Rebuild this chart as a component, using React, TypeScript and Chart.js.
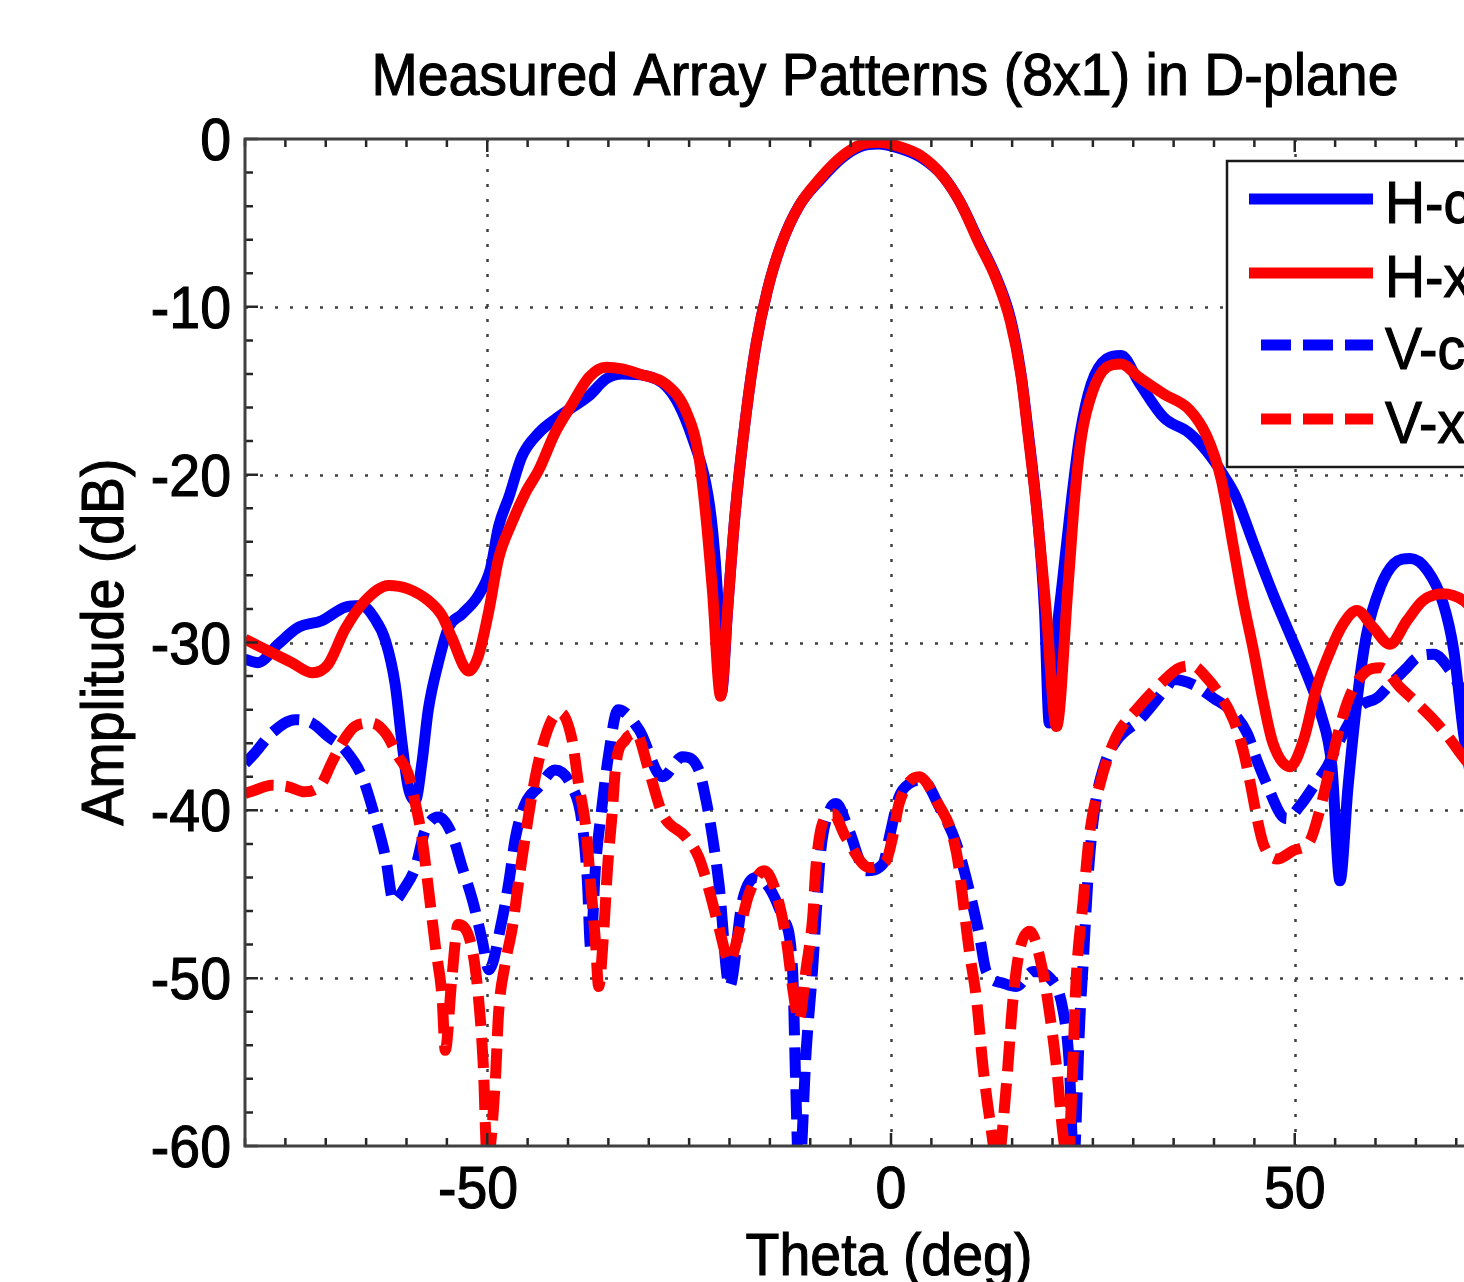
import React, { useEffect, useRef } from 'react';
import { Chart, registerables } from 'chart.js';

Chart.register(...registerables);

// ---------------- data ----------------
const hcoTheta = [
  -80, -78.4, -75.9, -73.4, -70.5, -67.6, -65.6, -63.9, -62.6, -61.4,
  -60.6, -59.8, -58.9, -58.1, -57.3, -56.0, -54.8, -53.1, -51.1, -49.6,
  -48.6, -47.3, -45.7, -43.6, -41.6, -39.5, -37.4, -35.3, -33.3, -30.4,
  -27.9, -26.3, -24.6, -22.9, -22.1, -21.5, -21.0, -20.2, -19.3, -18.0,
  -16.7, -15.3, -13.6, -11.4, -8.7, -6.0, -3.8, -1.6, 1.0, 3.7,
  6.4, 8.6, 10.8, 13.0, 14.8, 16.1, 17.0, 18.1, 19.0, 19.6,
  20.4, 21.2, 22.4, 23.4, 24.8, 26.7, 28.5, 30.7, 33.8, 36.9,
  39.1, 41.0, 42.7, 44.9, 47.3, 49.4, 51.5, 53.2, 54.6, 55.6,
  56.6, 57.7, 58.9, 60.6, 62.3, 64.3, 66.4, 68.4, 69.7, 70.9,
  72.0,
];
const hcoAmp = [
  -31.0, -31.2, -30.1, -29.1, -28.7, -27.9, -27.8, -28.6, -29.9, -32.5,
  -35.8, -38.6, -39.4, -37.2, -34.0, -31.1, -29.1, -28.3, -27.2, -25.6,
  -23.1, -21.3, -18.9, -17.5, -16.7, -16.0, -15.3, -14.3, -14.0, -14.1,
  -14.7, -15.8, -17.8, -20.6, -23.3, -27.0, -33.0, -27.8, -22.3, -16.6,
  -12.2, -9.0, -6.3, -4.0, -2.4, -1.1, -0.45, -0.3, -0.55, -1.1,
  -2.2, -3.8, -6.0, -8.2, -10.7, -14.0, -17.5, -22.3, -28.0, -34.8,
  -30.0, -26.5, -21.3, -17.6, -14.6, -13.1, -12.9, -14.5, -16.6, -17.5,
  -18.6, -19.9, -21.3, -24.1, -27.1, -29.5, -31.9, -34.2, -37.4, -44.2,
  -38.6, -33.5, -29.5, -26.7, -25.3, -25.0, -25.7, -27.7, -30.5, -35.4,
  -38.5,
];

const hxTheta = [
  -80, -76.7, -74.2, -71.7, -69.7, -67.6, -65.1, -62.2, -59.8, -57.3,
  -55.6, -54.4, -52.3, -51.1, -49.8, -48.6, -46.9, -45.3, -43.6, -41.6,
  -39.5, -37.4, -35.3, -33.3, -31.2, -27.9, -25.4, -23.8, -22.9, -22.1,
  -21.1, -20.2, -19.3, -18.0, -16.7, -15.3, -13.6, -11.4, -8.7, -6.0,
  -3.8, -1.6, 1.0, 3.7, 6.4, 8.6, 10.8, 13.0, 14.8, 16.1,
  17.0, 18.1, 19.2, 20.5, 21.9, 22.8, 23.6, 25.0, 26.7, 28.5,
  30.7, 33.8, 36.9, 39.1, 40.9, 42.4, 43.6, 44.9, 46.1, 47.3,
  49.4, 51.1, 52.7, 54.4, 56.0, 57.7, 59.7, 61.8, 63.9, 65.9,
  68.4, 70.9, 72.0,
];
const hxAmp = [
  -29.8, -30.6, -31.2, -31.8, -31.3, -29.2, -27.5, -26.6, -26.8, -27.5,
  -28.4, -29.7, -31.7, -30.8, -28.1, -25.0, -22.8, -21.1, -19.7, -17.5,
  -15.8, -14.2, -13.6, -13.7, -14.0, -14.6, -16.2, -18.9, -22.6, -27.0,
  -33.2, -27.8, -22.3, -16.6, -12.2, -9.0, -6.3, -4.0, -2.3, -1.0,
  -0.35, -0.2, -0.45, -1.0, -2.2, -3.8, -6.1, -8.3, -10.9, -14.1,
  -17.7, -22.3, -28.0, -35.0, -26.8, -21.1, -17.7, -15.0, -13.6, -13.4,
  -14.2, -15.2, -16.1, -17.7, -20.3, -24.3, -27.5, -30.5, -33.5, -36.0,
  -37.4, -35.8, -32.7, -30.5, -28.9, -28.1, -29.1, -30.1, -28.7, -27.5,
  -27.1, -27.5, -28.0,
];

const vcoTheta = [
  -80, -78.8, -76.7, -73.8, -71.7, -69.7, -67.6, -65.5, -63.9, -62.6,
  -61.6, -60.2, -58.9, -57.7, -56.0, -54.4, -53.1, -51.8, -50.6, -49.8,
  -48.2, -47.3, -46.5, -45.3, -43.6, -41.6, -39.5, -38.3, -37.6, -37.2,
  -36.6, -35.8, -35.0, -33.8, -31.2, -28.3, -25.8, -23.8, -22.9, -22.1,
  -21.3, -20.0, -18.4, -16.7, -15.1, -13.4, -12.2, -11.8, -11.4, -10.5,
  -9.7, -9.3, -8.7, -7.6, -6.8, -5.2, -3.1, -1.0, -0.2, 1.0,
  2.3, 3.9, 6.0, 8.1, 9.7, 11.0, 11.8, 13.9, 15.5, 17.6,
  19.7, 21.3, 22.1, 22.6, 23.4, 23.8, 24.4, 25.2, 26.5, 28.0,
  30.8, 34.1, 35.0, 37.4, 39.9, 42.4, 44.1, 45.3, 46.5, 48.2,
  49.0, 50.7, 52.3, 54.0, 55.6, 58.1, 60.2, 61.8, 63.9, 65.1,
  67.2, 69.3, 70.5, 72.0,
];
const vcoAmp = [
  -37.2, -36.6, -35.4, -34.6, -34.8, -35.6, -36.4, -38.0, -40.4, -42.8,
  -45.4, -44.6, -43.4, -41.2, -40.4, -41.4, -43.4, -45.4, -47.8, -49.5,
  -46.6, -44.2, -41.6, -39.6, -38.6, -37.6, -38.6, -40.6, -44.2, -48.2,
  -43.4, -39.8, -36.8, -34.0, -35.2, -38.0, -36.8, -37.6, -39.4, -41.6,
  -44.4, -50.5, -45.4, -44.0, -44.6, -46.4, -49.4, -56.3, -62.0, -54.3,
  -49.4, -46.4, -42.4, -40.0, -39.6, -41.2, -43.6, -43.2, -41.6, -39.2,
  -38.4, -38.2, -39.8, -42.0, -44.8, -47.6, -49.6, -50.3, -50.5, -49.6,
  -50.0, -51.9, -55.3, -61.0, -52.3, -49.1, -44.0, -40.0, -37.2, -35.8,
  -34.6, -32.7, -32.2, -32.5, -33.3, -34.2, -35.4, -37.0, -38.4, -40.2,
  -40.5, -39.7, -38.6, -37.4, -35.8, -33.8, -33.3, -32.5, -31.5, -30.9,
  -30.7, -31.7, -32.7, -34.0,
];

const vxTheta = [
  -80, -78.8, -76.7, -74.6, -72.6, -70.5, -69.3, -68.0, -66.4, -64.3,
  -62.6, -61.0, -59.8, -58.9, -58.1, -57.3, -56.4, -55.6, -55.2, -54.4,
  -53.6, -51.9, -51.1, -50.5, -50.0, -49.0, -48.6, -47.8, -46.9, -46.1,
  -45.3, -44.5, -43.6, -42.0, -40.9, -39.5, -38.7, -37.8, -37.2, -36.6,
  -36.2, -35.6, -35.1, -34.5, -34.1, -32.9, -31.6, -30.0, -28.3, -25.4,
  -23.8, -22.5, -21.3, -20.0, -18.8, -17.6, -15.7, -14.3, -13.0, -12.2,
  -11.4, -10.5, -9.7, -9.3, -8.5, -7.2, -5.6, -2.7, -0.6, 0.2,
  1.0, 3.5, 5.6, 8.1, 9.7, 10.6, 11.4, 12.2, 13.2, 14.3,
  15.1, 15.9, 17.2, 18.8, 19.7, 20.5, 21.3, 21.9, 22.5, 22.9,
  23.8, 24.6, 25.9, 27.9, 30.4, 33.3, 35.8, 37.4, 39.1, 40.7,
  42.4, 43.6, 44.5, 45.3, 46.1, 47.8, 49.8, 51.9, 53.2, 54.4,
  55.6, 56.9, 58.9, 60.6, 63.1, 65.1, 67.2, 69.3, 70.5, 72.0,
];
const vxAmp = [
  -39.0, -38.8, -38.5, -38.6, -38.9, -38.4, -37.2, -36.0, -35.0, -34.8,
  -35.4, -36.8, -37.8, -39.6, -41.6, -44.6, -48.2, -51.1, -54.3, -50.1,
  -46.8, -48.2, -51.1, -55.1, -61.0, -56.1, -52.1, -49.2, -47.0, -44.2,
  -41.6, -39.2, -37.0, -34.6, -34.2, -35.8, -38.4, -41.0, -44.4, -47.8,
  -50.5, -47.4, -43.4, -40.0, -37.4, -35.8, -35.4, -37.6, -40.2, -41.6,
  -42.8, -44.8, -47.0, -49.0, -47.2, -45.0, -43.6, -44.8, -47.6, -50.5,
  -52.5, -49.4, -46.4, -43.4, -40.8, -40.2, -41.6, -43.4, -43.0, -41.6,
  -39.6, -38.0, -39.4, -42.5, -48.4, -51.3, -55.3, -58.3, -61.0, -56.3,
  -51.3, -48.4, -47.2, -49.6, -52.3, -55.3, -59.3, -61.0, -55.3, -50.3,
  -45.4, -41.4, -38.4, -35.6, -34.0, -32.5, -31.5, -31.4, -32.1, -33.1,
  -34.6, -36.4, -38.4, -40.4, -42.0, -42.9, -42.4, -41.8, -39.8, -37.4,
  -35.0, -33.1, -31.7, -31.5, -32.7, -33.6, -34.6, -35.8, -36.6, -37.5,
];

const seriesLabels = ['H-co', 'H-x', 'V-co', 'V-x'];
const xMajorTicks = [-50, 0, 50];
const yMajorTicks = [0, -10, -20, -30, -40, -50, -60];
const titleText = 'Measured Array Patterns (8x1) in D-plane';
const xTitle = 'Theta (deg)';
const yTitle = 'Amplitude (dB)';

// ---------------- styling ----------------
const CANVAS_W = 1640;
const CANVAS_H = 1282;
const BLUE = '#0000ff';
const RED = '#ff0000';
const FONT = '60px "Liberation Sans", Arial, Helvetica, sans-serif';
const SX = 0.925;
const DASH = [30, 12];

function drawText(ctx: CanvasRenderingContext2D, s: string, x: number, y: number, align: CanvasTextAlign, rot = 0) {
  ctx.save();
  ctx.translate(x, y);
  if (rot) ctx.rotate(rot);
  ctx.scale(SX, 1);
  ctx.font = FONT;
  ctx.fillStyle = '#000';
  ctx.strokeStyle = '#000';
  ctx.lineWidth = 1.1;
  ctx.setLineDash([]);
  ctx.textAlign = align;
  ctx.textBaseline = 'alphabetic';
  ctx.fillText(s, 0, 0);
  ctx.strokeText(s, 0, 0);
  ctx.restore();
}

const matlabAxes = {
  id: 'matlabAxes',
  beforeDatasetsDraw(chart: any) {
    const { ctx, chartArea: a, scales } = chart;
    const xs = scales.x;
    const ys = scales.y;
    ctx.save();
    ctx.strokeStyle = '#404040';
    ctx.lineWidth = 2.5;
    ctx.setLineDash([3, 12]);
    for (const v of xMajorTicks) {
      const px = Math.round(xs.getPixelForValue(v)) + 0.5;
      ctx.beginPath();
      ctx.moveTo(px, a.top);
      ctx.lineTo(px, a.bottom);
      ctx.stroke();
    }
    for (const v of yMajorTicks) {
      if (v === 0 || v === -60) continue;
      const py = Math.round(ys.getPixelForValue(v)) + 0.5;
      ctx.beginPath();
      ctx.moveTo(a.left, py);
      ctx.lineTo(a.right, py);
      ctx.stroke();
    }
    ctx.restore();
  },
  afterDatasetsDraw(chart: any) {
    const { ctx, chartArea: a, scales } = chart;
    const xs = scales.x;
    const ys = scales.y;
    ctx.save();
    // ticks (inward, on all four sides)
    ctx.strokeStyle = '#262626';
    ctx.lineWidth = 2.5;
    for (let v = -80; v <= 80; v += 5) {
      const px = xs.getPixelForValue(v);
      const len = v % 50 === 0 ? 13 : 8;
      ctx.beginPath();
      ctx.moveTo(px, a.bottom);
      ctx.lineTo(px, a.bottom - len);
      ctx.moveTo(px, a.top);
      ctx.lineTo(px, a.top + len);
      ctx.stroke();
    }
    for (let v = -60; v <= 0; v += 2) {
      const py = ys.getPixelForValue(v);
      const len = v % 10 === 0 ? 13 : 8;
      ctx.beginPath();
      ctx.moveTo(a.left, py);
      ctx.lineTo(a.left + len, py);
      ctx.moveTo(a.right, py);
      ctx.lineTo(a.right - len, py);
      ctx.stroke();
    }
    // frame
    ctx.strokeStyle = '#404040';
    ctx.lineWidth = 3;
    ctx.strokeRect(a.left, a.top, a.right - a.left, a.bottom - a.top);

    // tick labels
    ctx.font = FONT;
    for (const v of yMajorTicks) {
      const py = ys.getPixelForValue(v);
      drawText(ctx, String(v), 231, py + 21, 'right');
    }
    for (const v of xMajorTicks) {
      const px = xs.getPixelForValue(v);
      const abs = String(Math.abs(v));
      ctx.font = FONT;
      const w = ctx.measureText(abs).width * SX;
      drawText(ctx, String(v), px + w / 2, 1208, 'right');
    }
    // titles
    drawText(ctx, titleText, 885, 95, 'center');
    drawText(ctx, xTitle, 889, 1275, 'center');
    drawText(ctx, yTitle, 123, 642, 'center', -Math.PI / 2);

    // legend
    const lx = 1227, ly = 161, lw = 360, lh = 306;
    ctx.fillStyle = '#fff';
    ctx.fillRect(lx, ly, lw, lh);
    ctx.strokeStyle = '#1a1a1a';
    ctx.lineWidth = 2.5;
    ctx.strokeRect(lx, ly, lw, lh);
    const rows = [199, 273, 345, 419];
    const colors = [BLUE, RED, BLUE, RED];
    rows.forEach((ry, i) => {
      ctx.save();
      ctx.strokeStyle = colors[i];
      ctx.lineWidth = 11;
      ctx.lineCap = 'butt';
      if (i >= 2) {
        ctx.setLineDash(DASH);
        ctx.beginPath();
        ctx.moveTo(1261, ry);
        ctx.lineTo(1373, ry);
        ctx.stroke();
      } else {
        ctx.beginPath();
        ctx.moveTo(1249, ry);
        ctx.lineTo(1373, ry);
        ctx.stroke();
      }
      ctx.restore();
      drawText(ctx, seriesLabels[i], 1385, ry + 24, 'left');
    });
    ctx.restore();
  },
};

function pts(t: number[], a: number[]) {
  return t.map((x, i) => ({ x, y: a[i] }));
}

export default function App() {
  const ref = useRef<HTMLCanvasElement | null>(null);
  useEffect(() => {
    if (!ref.current) return;
    const common = {
      pointRadius: 0,
      borderWidth: 11,
      fill: false,
      tension: 0,
      cubicInterpolationMode: 'monotone' as const,
      borderJoinStyle: 'round' as const,
      borderCapStyle: 'butt' as const,
      clip: 0,
    };
    const chart = new Chart(ref.current, {
      type: 'line',
      data: {
        datasets: [
          { label: seriesLabels[0], data: pts(hcoTheta, hcoAmp), borderColor: BLUE, order: 3, ...common },
          { label: seriesLabels[1], data: pts(hxTheta, hxAmp), borderColor: RED, order: 2, ...common },
          { label: seriesLabels[2], data: pts(vcoTheta, vcoAmp), borderColor: BLUE, borderDash: DASH, order: 1, ...common },
          { label: seriesLabels[3], data: pts(vxTheta, vxAmp), borderColor: RED, borderDash: DASH, order: 0, ...common },
        ],
      },
      options: {
        animation: false,
        responsive: false,
        devicePixelRatio: 1,
        layout: { padding: { left: 245, top: 139, right: CANVAS_W - 1537, bottom: CANVAS_H - 1146 } },
        plugins: { legend: { display: false }, title: { display: false }, tooltip: { enabled: false } },
        scales: {
          x: { type: 'linear', min: -80, max: 80, display: false },
          y: { type: 'linear', min: -60, max: 0, display: false },
        },
      },
      plugins: [matlabAxes],
    });
    return () => chart.destroy();
  }, []);

  return (
    <div style={{ position: 'fixed', left: 0, top: 0, width: 1464, height: 1282, overflow: 'hidden', background: '#fff' }}>
      <canvas ref={ref} width={CANVAS_W} height={CANVAS_H} style={{ display: 'block', width: CANVAS_W, height: CANVAS_H }} />
    </div>
  );
}
